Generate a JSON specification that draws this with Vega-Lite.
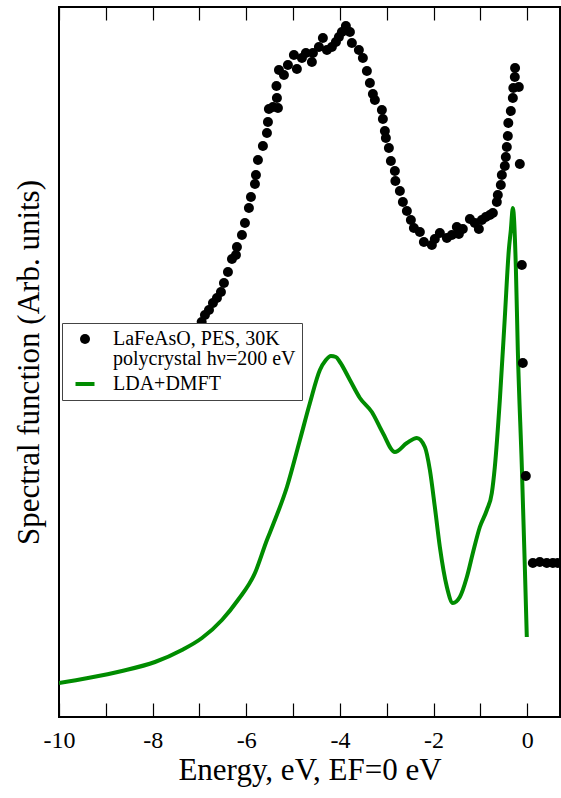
{
  "$schema": "https://vega.github.io/schema/vega-lite/v6.json",
  "width": 501,
  "height": 710,
  "autosize": {"type": "none"},
  "padding": {"left": 59, "top": 7, "right": 1, "bottom": 81},
  "background": "white",
  "config": {"view": {"stroke": "black", "strokeWidth": 2}, "font": "Liberation Serif"},
  "datasets": {
    "dmft": [
      {"series": "LDA+DMFT", "energy": -10.0, "intensity": 0.34},
      {"series": "LDA+DMFT", "energy": -9.381, "intensity": 0.39},
      {"series": "LDA+DMFT", "energy": -8.655, "intensity": 0.46},
      {"series": "LDA+DMFT", "energy": -7.95, "intensity": 0.55},
      {"series": "LDA+DMFT", "energy": -7.374, "intensity": 0.67},
      {"series": "LDA+DMFT", "energy": -6.947, "intensity": 0.79},
      {"series": "LDA+DMFT", "energy": -6.52, "intensity": 0.97},
      {"series": "LDA+DMFT", "energy": -6.178, "intensity": 1.17},
      {"series": "LDA+DMFT", "energy": -5.815, "intensity": 1.44},
      {"series": "LDA+DMFT", "energy": -5.559, "intensity": 1.77},
      {"series": "LDA+DMFT", "energy": -5.431, "intensity": 1.92},
      {"series": "LDA+DMFT", "energy": -5.132, "intensity": 2.3},
      {"series": "LDA+DMFT", "energy": -4.855, "intensity": 2.77},
      {"series": "LDA+DMFT", "energy": -4.641, "intensity": 3.14},
      {"series": "LDA+DMFT", "energy": -4.428, "intensity": 3.47},
      {"series": "LDA+DMFT", "energy": -4.3, "intensity": 3.57},
      {"series": "LDA+DMFT", "energy": -4.193, "intensity": 3.61},
      {"series": "LDA+DMFT", "energy": -4.086, "intensity": 3.6},
      {"series": "LDA+DMFT", "energy": -4.001, "intensity": 3.55},
      {"series": "LDA+DMFT", "energy": -3.787, "intensity": 3.37},
      {"series": "LDA+DMFT", "energy": -3.574, "intensity": 3.19},
      {"series": "LDA+DMFT", "energy": -3.318, "intensity": 3.05},
      {"series": "LDA+DMFT", "energy": -3.083, "intensity": 2.84},
      {"series": "LDA+DMFT", "energy": -2.827, "intensity": 2.65},
      {"series": "LDA+DMFT", "energy": -2.57, "intensity": 2.74},
      {"series": "LDA+DMFT", "energy": -2.357, "intensity": 2.79},
      {"series": "LDA+DMFT", "energy": -2.186, "intensity": 2.7},
      {"series": "LDA+DMFT", "energy": -2.079, "intensity": 2.47},
      {"series": "LDA+DMFT", "energy": -1.973, "intensity": 2.1},
      {"series": "LDA+DMFT", "energy": -1.866, "intensity": 1.7},
      {"series": "LDA+DMFT", "energy": -1.716, "intensity": 1.3},
      {"series": "LDA+DMFT", "energy": -1.588, "intensity": 1.14},
      {"series": "LDA+DMFT", "energy": -1.439, "intensity": 1.2},
      {"series": "LDA+DMFT", "energy": -1.289, "intensity": 1.4},
      {"series": "LDA+DMFT", "energy": -1.161, "intensity": 1.64},
      {"series": "LDA+DMFT", "energy": -1.012, "intensity": 1.9},
      {"series": "LDA+DMFT", "energy": -0.862, "intensity": 2.07},
      {"series": "LDA+DMFT", "energy": -0.756, "intensity": 2.24},
      {"series": "LDA+DMFT", "energy": -0.692, "intensity": 2.5},
      {"series": "LDA+DMFT", "energy": -0.585, "intensity": 3.17},
      {"series": "LDA+DMFT", "energy": -0.478, "intensity": 4.0},
      {"series": "LDA+DMFT", "energy": -0.393, "intensity": 4.67},
      {"series": "LDA+DMFT", "energy": -0.35, "intensity": 4.87},
      {"series": "LDA+DMFT", "energy": -0.307, "intensity": 5.09},
      {"series": "LDA+DMFT", "energy": -0.243, "intensity": 4.5},
      {"series": "LDA+DMFT", "energy": -0.201, "intensity": 3.67},
      {"series": "LDA+DMFT", "energy": -0.115, "intensity": 2.5},
      {"series": "LDA+DMFT", "energy": -0.051, "intensity": 1.5},
      {"series": "LDA+DMFT", "energy": -0.009, "intensity": 0.8}
    ],
    "pes": [
      {"series": "PES", "energy": -6.953, "intensity": 3.95},
      {"series": "PES", "energy": -6.883, "intensity": 4.02},
      {"series": "PES", "energy": -6.797, "intensity": 4.07},
      {"series": "PES", "energy": -6.712, "intensity": 4.14},
      {"series": "PES", "energy": -6.627, "intensity": 4.19},
      {"series": "PES", "energy": -6.541, "intensity": 4.25},
      {"series": "PES", "energy": -6.477, "intensity": 4.34},
      {"series": "PES", "energy": -6.392, "intensity": 4.45},
      {"series": "PES", "energy": -6.306, "intensity": 4.58},
      {"series": "PES", "energy": -6.221, "intensity": 4.62},
      {"series": "PES", "energy": -6.2, "intensity": 4.7},
      {"series": "PES", "energy": -6.093, "intensity": 4.82},
      {"series": "PES", "energy": -6.029, "intensity": 4.94},
      {"series": "PES", "energy": -5.944, "intensity": 5.09},
      {"series": "PES", "energy": -5.901, "intensity": 5.2},
      {"series": "PES", "energy": -5.815, "intensity": 5.33},
      {"series": "PES", "energy": -5.794, "intensity": 5.42},
      {"series": "PES", "energy": -5.751, "intensity": 5.57},
      {"series": "PES", "energy": -5.645, "intensity": 5.71},
      {"series": "PES", "energy": -5.559, "intensity": 5.84},
      {"series": "PES", "energy": -5.538, "intensity": 5.95},
      {"series": "PES", "energy": -5.517, "intensity": 6.08},
      {"series": "PES", "energy": -5.431, "intensity": 6.1},
      {"series": "PES", "energy": -5.346, "intensity": 6.19},
      {"series": "PES", "energy": -5.324, "intensity": 6.09},
      {"series": "PES", "energy": -5.356, "intensity": 6.31},
      {"series": "PES", "energy": -5.303, "intensity": 6.47},
      {"series": "PES", "energy": -5.196, "intensity": 6.42},
      {"series": "PES", "energy": -5.111, "intensity": 6.52},
      {"series": "PES", "energy": -4.983, "intensity": 6.62},
      {"series": "PES", "energy": -4.919, "intensity": 6.48},
      {"series": "PES", "energy": -4.812, "intensity": 6.59},
      {"series": "PES", "energy": -4.727, "intensity": 6.64},
      {"series": "PES", "energy": -4.599, "intensity": 6.55},
      {"series": "PES", "energy": -4.577, "intensity": 6.64},
      {"series": "PES", "energy": -4.449, "intensity": 6.7},
      {"series": "PES", "energy": -4.364, "intensity": 6.79},
      {"series": "PES", "energy": -4.278, "intensity": 6.67},
      {"series": "PES", "energy": -4.172, "intensity": 6.7},
      {"series": "PES", "energy": -4.086, "intensity": 6.75},
      {"series": "PES", "energy": -4.022, "intensity": 6.8},
      {"series": "PES", "energy": -3.958, "intensity": 6.85},
      {"series": "PES", "energy": -3.873, "intensity": 6.91},
      {"series": "PES", "energy": -3.787, "intensity": 6.85},
      {"series": "PES", "energy": -3.745, "intensity": 6.74},
      {"series": "PES", "energy": -3.595, "intensity": 6.67},
      {"series": "PES", "energy": -3.51, "intensity": 6.59},
      {"series": "PES", "energy": -3.424, "intensity": 6.46},
      {"series": "PES", "energy": -3.36, "intensity": 6.34},
      {"series": "PES", "energy": -3.296, "intensity": 6.23},
      {"series": "PES", "energy": -3.254, "intensity": 6.17},
      {"series": "PES", "energy": -3.104, "intensity": 6.07},
      {"series": "PES", "energy": -3.083, "intensity": 5.98},
      {"series": "PES", "energy": -3.04, "intensity": 5.86},
      {"series": "PES", "energy": -3.019, "intensity": 5.79},
      {"series": "PES", "energy": -2.955, "intensity": 5.69},
      {"series": "PES", "energy": -2.912, "intensity": 5.56},
      {"series": "PES", "energy": -2.827, "intensity": 5.46},
      {"series": "PES", "energy": -2.816, "intensity": 5.36},
      {"series": "PES", "energy": -2.72, "intensity": 5.26},
      {"series": "PES", "energy": -2.656, "intensity": 5.15},
      {"series": "PES", "energy": -2.57, "intensity": 5.06},
      {"series": "PES", "energy": -2.485, "intensity": 4.97},
      {"series": "PES", "energy": -2.421, "intensity": 4.89},
      {"series": "PES", "energy": -2.293, "intensity": 4.85},
      {"series": "PES", "energy": -2.207, "intensity": 4.75},
      {"series": "PES", "energy": -2.037, "intensity": 4.72},
      {"series": "PES", "energy": -1.973, "intensity": 4.78},
      {"series": "PES", "energy": -1.866, "intensity": 4.84},
      {"series": "PES", "energy": -1.716, "intensity": 4.79},
      {"series": "PES", "energy": -1.61, "intensity": 4.82},
      {"series": "PES", "energy": -1.503, "intensity": 4.9},
      {"series": "PES", "energy": -1.46, "intensity": 4.83},
      {"series": "PES", "energy": -1.375, "intensity": 4.88},
      {"series": "PES", "energy": -1.225, "intensity": 4.98},
      {"series": "PES", "energy": -1.119, "intensity": 4.94},
      {"series": "PES", "energy": -1.033, "intensity": 4.88},
      {"series": "PES", "energy": -0.969, "intensity": 4.97},
      {"series": "PES", "energy": -0.884, "intensity": 5.0},
      {"series": "PES", "energy": -0.798, "intensity": 5.02},
      {"series": "PES", "energy": -0.734, "intensity": 5.04},
      {"series": "PES", "energy": -0.649, "intensity": 5.15},
      {"series": "PES", "energy": -0.628, "intensity": 5.22},
      {"series": "PES", "energy": -0.564, "intensity": 5.32},
      {"series": "PES", "energy": -0.542, "intensity": 5.42},
      {"series": "PES", "energy": -0.478, "intensity": 5.51},
      {"series": "PES", "energy": -0.457, "intensity": 5.6},
      {"series": "PES", "energy": -0.436, "intensity": 5.7},
      {"series": "PES", "energy": -0.414, "intensity": 5.81},
      {"series": "PES", "energy": -0.404, "intensity": 5.94},
      {"series": "PES", "energy": -0.35, "intensity": 6.06},
      {"series": "PES", "energy": -0.307, "intensity": 6.19},
      {"series": "PES", "energy": -0.297, "intensity": 6.29},
      {"series": "PES", "energy": -0.265, "intensity": 6.4},
      {"series": "PES", "energy": -0.26, "intensity": 6.49},
      {"series": "PES", "energy": -0.179, "intensity": 6.3},
      {"series": "PES", "energy": -0.158, "intensity": 5.53},
      {"series": "PES", "energy": -0.115, "intensity": 4.52},
      {"series": "PES", "energy": -0.094, "intensity": 3.54},
      {"series": "PES", "energy": -0.03, "intensity": 2.41},
      {"series": "PES", "energy": 0.12, "intensity": 1.54},
      {"series": "PES", "energy": 0.269, "intensity": 1.55},
      {"series": "PES", "energy": 0.418, "intensity": 1.54},
      {"series": "PES", "energy": 0.547, "intensity": 1.54},
      {"series": "PES", "energy": 0.653, "intensity": 1.54}
    ]
  },
  "layer": [
    {
      "data": {"name": "dmft"},
      "mark": {"type": "line", "strokeWidth": 4, "interpolate": "monotone", "clip": true},
      "encoding": {
        "x": {
          "field": "energy", "type": "quantitative",
          "scale": {"domain": [-10, 0.7], "nice": false, "zero": false},
          "axis": {
            "orient": "bottom",
            "values": [-10, -9, -8, -7, -6, -5, -4, -3, -2, -1, 0],
            "title": "Energy, eV, EF=0 eV",
            "titleFont": "Liberation Serif", "titleFontSize": 31, "titleFontWeight": "normal", "titleColor": "black", "titlePadding": 3,
            "labelFont": "Liberation Serif", "labelFontSize": 24, "labelColor": "black", "labelPadding": 25,
            "labelExpr": "datum.value % 2 === 0 ? '' + datum.value : ''",
            "labelFlush": false, "labelOverlap": false,
            "tickSize": -14, "tickColor": "black", "tickWidth": 1.2,
            "domain": false, "grid": false,
            "encode": {"ticks": {"update": {"y2": {"signal": "datum.value % 2 === 0 ? -14 : -7"}}}}
          }
        },
        "y": {
          "field": "intensity", "type": "quantitative",
          "scale": {"domain": [0, 7.1], "nice": false, "zero": false},
          "axis": {
            "title": "Spectral function (Arb. units)",
            "titleFont": "Liberation Serif", "titleFontSize": 31, "titleFontWeight": "normal", "titleColor": "black", "titlePadding": 14,
            "labels": false, "ticks": false, "domain": false, "grid": false
          }
        },
        "color": {
          "field": "series", "type": "nominal",
          "scale": {"domain": ["PES", "LDA+DMFT"], "range": ["black", "#008c00"]},
          "legend": {
            "title": null, "orient": "none", "legendX": 3, "legendY": 316,
            "fillColor": "white", "strokeColor": "#444",
            "padding": 6, "rowPadding": 5, "labelOffset": 18, "symbolOffset": 7,
            "labelFont": "Liberation Serif", "labelFontSize": 20, "labelColor": "black", "labelLimit": 400,
            "symbolSize": 100, "symbolStrokeWidth": 4,
            "labelExpr": "datum.label === 'PES' ? ['LaFeAsO, PES, 30K', 'polycrystal hν=200 eV'] : datum.label",
            "encode": {
              "symbols": {"update": {
                "shape": {"signal": "datum.value === 'PES' ? 'circle' : 'M-1.9,0H1.9'"},
                "size": {"value": 100},
                "fill": {"signal": "datum.value === 'PES' ? 'black' : 'transparent'"},
                "stroke": {"signal": "datum.value === 'PES' ? 'black' : '#008c00'"},
                "strokeWidth": {"signal": "datum.value === 'PES' ? 0 : 4"},
                "opacity": {"value": 1}
              }},
              "labels": {"update": {"lineHeight": {"value": 20}}}
            }
          }
        }
      }
    },
    {
      "data": {"name": "pes"},
      "mark": {"type": "point", "filled": true, "size": 100, "opacity": 1, "clip": true},
      "encoding": {
        "x": {
          "field": "energy", "type": "quantitative",
          "scale": {"domain": [-10, 0.7], "nice": false, "zero": false},
          "axis": {
            "orient": "top",
            "values": [-10, -9, -8, -7, -6, -5, -4, -3, -2, -1, 0],
            "title": null, "labels": false,
            "tickSize": -13, "tickColor": "black", "tickWidth": 1.2,
            "domain": false, "grid": false,
            "encode": {"ticks": {"update": {"y2": {"signal": "datum.value % 2 === 0 ? 13 : 6"}}}}
          }
        },
        "y": {"field": "intensity", "type": "quantitative", "scale": {"domain": [0, 7.1], "nice": false, "zero": false}},
        "color": {"field": "series", "type": "nominal", "scale": {"domain": ["PES", "LDA+DMFT"], "range": ["black", "#008c00"]}}
      }
    }
  ],
  "resolve": {"scale": {"x": "independent"}, "axis": {"x": "independent"}}
}
